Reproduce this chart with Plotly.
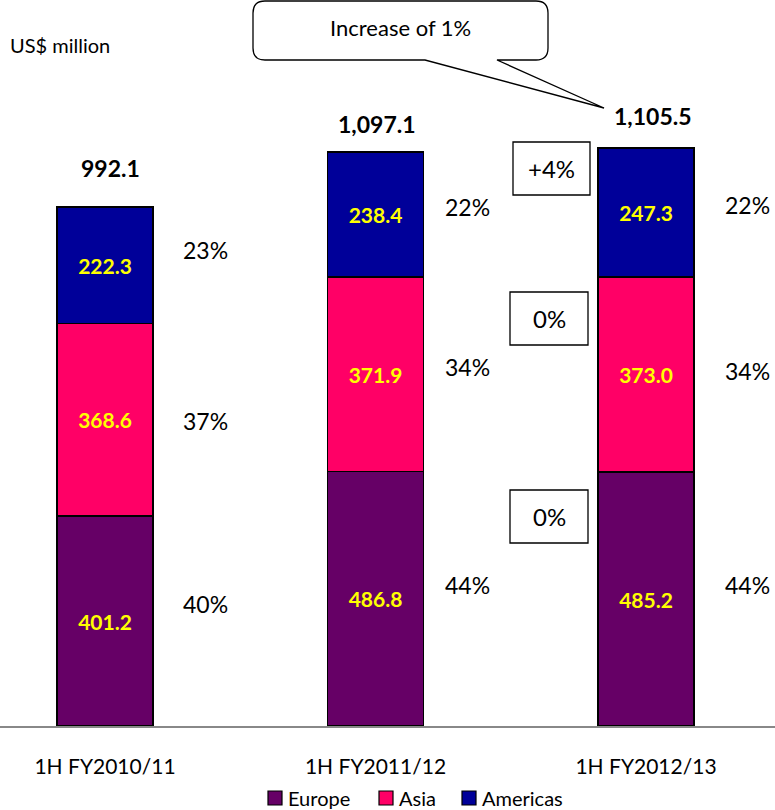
import plotly.graph_objects as go

categories = ["1H FY2010/11", "1H FY2011/12", "1H FY2012/13"]
europe = [401.2, 486.8, 485.2]
asia = [368.6, 371.9, 373.0]
americas = [222.3, 238.4, 247.3]
totals = ["992.1", "1,097.1", "1,105.5"]
pct_europe = ["40%", "44%", "44%"]
pct_asia = ["37%", "34%", "34%"]
pct_americas = ["23%", "22%", "22%"]
changes = ["0%", "0%", "+4%"]  # Europe, Asia, Americas change vs prior year
callout_text = "Increase of 1%"
series_names = ["Europe", "Asia", "Americas"]

W, H = 775, 810
BASE = 726          # pixel row of the baseline
PXU = 0.523         # pixels per unit
CX0, DX = 105, 270.5
FONT = "Lato"

def xd(px):
    return (px - CX0) / DX

def yd(py):
    return (BASE - py) / PXU

def xp(px):
    return px / W

def yp(py):
    return (BASE - py) / BASE

colors = {"Europe": "#660066", "Asia": "#FF0066", "Americas": "#000099"}
xs = list(range(len(categories)))

fig = go.Figure()
for name, vals in zip(series_names, [europe, asia, americas]):
    fig.add_trace(go.Bar(
        x=xs, y=vals, name=name, width=0.355,
        marker=dict(color=colors[name], line=dict(color="black", width=1.5)),
        text=[f"{v:.1f}" for v in vals], textposition="inside",
        insidetextanchor="middle", textangle=0,
        insidetextfont=dict(color="#FFFF00", size=21, family=FONT, weight="bold"),
        hoverinfo="skip", showlegend=False,
    ))

ann = []
# totals
tot_pos = [(110, 168), (377, 124), (653, 116)]
for t, (px, py) in zip(totals, tot_pos):
    ann.append(dict(x=xd(px), y=yd(py), text=t, showarrow=False,
                    font=dict(size=23, family=FONT, color="black", weight="bold")))
# percentage labels
pct_x = [205, 467, 747]
pct_y = {"am": [250, 207, 205], "as": [421, 367, 371], "eu": [604, 585, 585]}
for i in range(3):
    for key, lab in [("am", pct_americas), ("as", pct_asia), ("eu", pct_europe)]:
        ann.append(dict(x=xd(pct_x[i]), y=yd(pct_y[key][i]), text=lab[i], showarrow=False,
                        font=dict(size=23, family=FONT, color="black")))
# change boxes
shapes = []
boxes = [(510, 490, 588, 543), (510, 292, 588, 345), (513, 142, 590, 195)]
for txt, (x0, y0, x1, y1) in zip(changes, boxes):
    shapes.append(dict(type="rect", xref="x", yref="y", x0=xd(x0), x1=xd(x1),
                       y0=yd(y0), y1=yd(y1), line=dict(color="black", width=1.3),
                       fillcolor="white", layer="above"))
    ann.append(dict(x=xd((x0 + x1) / 2), y=yd((y0 + y1) / 2), text=txt, showarrow=False,
                    font=dict(size=24, family=FONT, color="black")))

# callout
pts = [("M", 265, 1), ("L", 536, 1), ("Q", 548, 1, 548, 13), ("L", 548, 48),
       ("Q", 548, 60, 536, 60), ("L", 497, 60), ("L", 604, 108), ("L", 425, 60),
       ("L", 265, 60), ("Q", 253, 60, 253, 48), ("L", 253, 13), ("Q", 253, 1, 265, 1)]
path = ""
for p in pts:
    cmd = p[0]
    coords = p[1:]
    seg = []
    for j in range(0, len(coords), 2):
        seg.append(f"{xd(coords[j]):.5f},{yd(coords[j+1]):.3f}")
    path += cmd + " ".join(seg) + " "
path += "Z"
shapes.append(dict(type="path", xref="x", yref="y", path=path,
                   line=dict(color="black", width=1.3), fillcolor="white", layer="above"))
ann.append(dict(x=xd(400), y=yd(27), text=callout_text, showarrow=False,
                font=dict(size=22, family=FONT, color="black")))

# unit label
ann.append(dict(x=xd(8), y=yd(45), xanchor="left",
                text="US$ million", showarrow=False,
                font=dict(size=20, family=FONT, color="black")))

# manual legend (compact, as in the original), in paper coordinates
leg_sq_x = [268, 379, 462]
leg_y = 798
for name, sx in zip(series_names, leg_sq_x):
    shapes.append(dict(type="rect", xref="paper", yref="paper", x0=xp(sx), x1=xp(sx + 14),
                       y0=yp(leg_y - 7), y1=yp(leg_y + 7), fillcolor=colors[name],
                       line=dict(color="black", width=1.2)))
    ann.append(dict(xref="paper", yref="paper", x=xp(sx + 18), y=yp(leg_y), xanchor="left",
                    yanchor="middle", text=name, showarrow=False,
                    font=dict(size=20, family=FONT, color="black")))

fig.update_layout(
    width=W, height=H, barmode="stack",
    margin=dict(l=0, r=0, t=0, b=H - BASE, pad=0),
    paper_bgcolor="white", plot_bgcolor="white",
    font=dict(family=FONT, size=17, color="black"),
    xaxis=dict(range=[xd(0), xd(W)], tickmode="array", tickvals=xs, ticktext=categories,
               showline=True, linecolor="#888888", linewidth=2, showgrid=False,
               zeroline=False, ticks="", ticklabelstandoff=21, automargin=False,
               tickfont=dict(size=21, family=FONT)),
    yaxis=dict(range=[0, yd(0)], visible=False, showgrid=False, zeroline=False),
    showlegend=False,
    annotations=ann, shapes=shapes,
)
fig.write_html("out.html")
